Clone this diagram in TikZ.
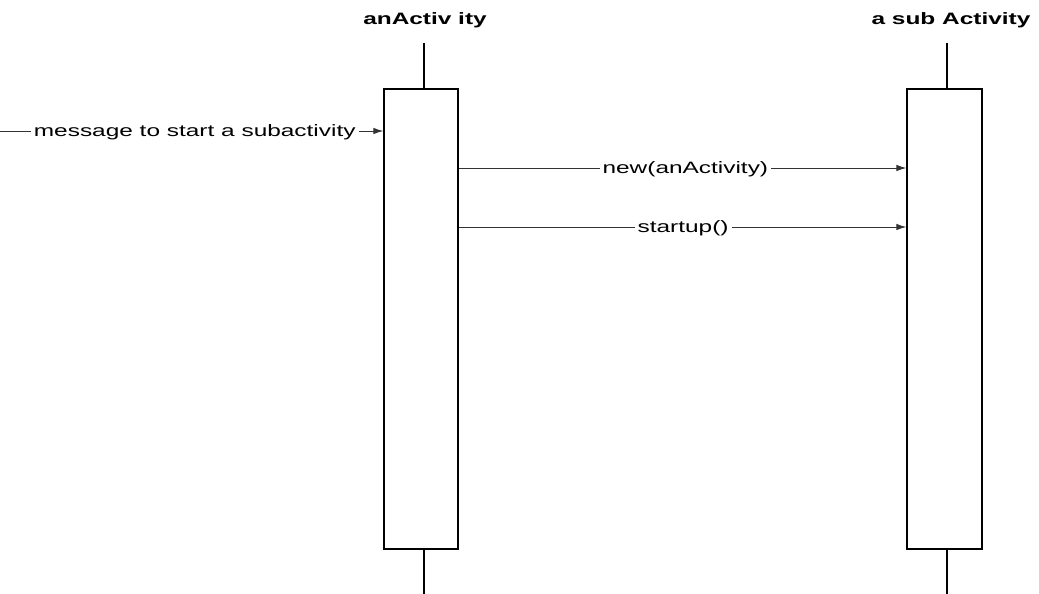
\documentclass[tikz,border=0pt]{standalone}
\usepackage{fontspec}
\setmainfont{Liberation Sans}
\usetikzlibrary{arrows.meta}
\begin{document}
\begin{tikzpicture}[x=1pt,y=-1pt,
  txt/.style={font=\fontsize{16.5}{20}\selectfont, xscale=1.48, inner sep=0pt},
  title/.style={txt, font=\fontsize{16.5}{20}\selectfont\bfseries},
  lbl/.style={txt, fill=white, inner xsep=2pt, yshift=-1.5pt},
  actbox/.style={draw=black, line width=1.3pt, fill=white, minimum width=74pt, minimum height=460pt, inner sep=0pt},
  lifeline/.style={draw=black, line width=1.2pt},
  msg/.style={draw=black!80, line width=0.9pt, -{Latex[length=10pt,width=6.5pt]}}]
\useasboundingbox (0,0) rectangle (1039,594);

% object titles
\node[title] (tA) at (425,20) {anActiv ity};
\node[title] (tB) at (951,20) {a sub Activity};

% lifeline ends
\coordinate (Atop) at (424,43);
\coordinate (Abot) at (424,594);
\coordinate (Btop) at (947,43);
\coordinate (Bbot) at (947,594);

% lifelines
\draw[lifeline] (Atop) -- (Abot);
\draw[lifeline] (Btop) -- (Bbot);

% activation boxes
\node[actbox] (A) at (421,319) {};
\node[actbox, minimum width=75pt] (B) at (944.5,319) {};

% messages
\coordinate (m0) at (0,131);
\coordinate (m1) at (459,168);
\coordinate (m2) at (459,227);
\draw[msg] (m0) -- (A.west |- m0) node[lbl, pos=0.508] (l0) {message to start a subactivity};
\draw[msg] (m1) -- (B.west |- m1) node[lbl, pos=0.506] (l1) {new(anActivity)};
\draw[msg] (m2) -- (B.west |- m2) node[lbl, pos=0.501] (l2) {startup()};
\end{tikzpicture}
\end{document}
